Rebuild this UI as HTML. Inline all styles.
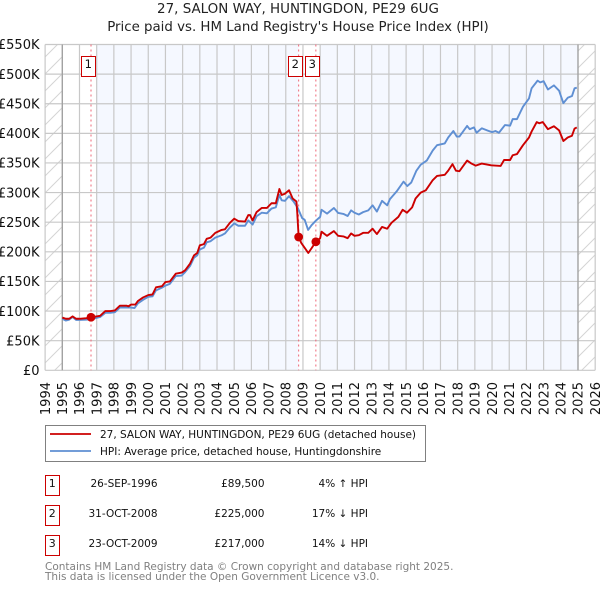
<!DOCTYPE html>
<html>
<head>
<meta charset="utf-8">
<style>
html,body{margin:0;padding:0;background:#fff;}
body{width:600px;height:590px;overflow:hidden;font-family:"DejaVu Sans",sans-serif;}
svg{display:block;}
svg text{font-family:"DejaVu Sans",sans-serif;}
</style>
</head>
<body>
<svg id="chart" width="600" height="590" viewBox="0 0 600 590" xmlns="http://www.w3.org/2000/svg">
  <defs>
    <pattern id="hatch" patternUnits="userSpaceOnUse" width="17" height="17">
      <path d="M-1 18 L18 -1 M-9 9 L9 -9 M8 26 L26 8" stroke="#d4d4d4" stroke-width="1" fill="none"/>
    </pattern>
  </defs>
  <text x="298" y="13" text-anchor="middle" font-size="13.45" fill="#222">27, SALON WAY, HUNTINGDON, PE29 6UG</text>
  <text x="298" y="31" text-anchor="middle" font-size="13.35" fill="#222">Price paid vs. HM Land Registry's House Price Index (HPI)</text>
  <g id="bands"></g>
  <g id="grid"></g>
  <g id="events"></g>
  <g id="series"></g>
  <g id="dots"></g>
  <g id="ylabels"></g>
  <g id="xlabels"></g>

  <g>
    <rect x="45.5" y="425.5" width="380" height="36" fill="#fff" stroke="#808080" stroke-width="1"/>
    <line x1="50" y1="434" x2="91" y2="434" stroke="#cc0000" stroke-width="1.8"/>
    <text x="100" y="438" font-size="10.5" fill="#111">27, SALON WAY, HUNTINGDON, PE29 6UG (detached house)</text>
    <line x1="50" y1="451" x2="91" y2="451" stroke="#5f8fd3" stroke-width="1.8"/>
    <text x="100" y="455" font-size="10.5" fill="#111">HPI: Average price, detached house, Huntingdonshire</text>
  </g>

  <g font-size="10.5" fill="#111">
    <g>
      <rect x="45.5" y="475.5" width="14" height="20" fill="#fff" stroke="#cc0000" stroke-width="1"/>
      <text x="52.3" y="487" text-anchor="middle" font-size="11">1</text>
      <text x="157.5" y="487" text-anchor="end">26-SEP-1996</text>
      <text x="264.5" y="487" text-anchor="end">£89,500</text>
      <text x="368" y="487" text-anchor="end">4% ↑ HPI</text>
    </g>
    <g>
      <rect x="45.5" y="505.5" width="14" height="20" fill="#fff" stroke="#cc0000" stroke-width="1"/>
      <text x="52.3" y="517" text-anchor="middle" font-size="11">2</text>
      <text x="157.5" y="517" text-anchor="end">31-OCT-2008</text>
      <text x="264.5" y="517" text-anchor="end">£225,000</text>
      <text x="368" y="517" text-anchor="end">17% ↓ HPI</text>
    </g>
    <g>
      <rect x="45.5" y="535.5" width="14" height="20" fill="#fff" stroke="#cc0000" stroke-width="1"/>
      <text x="52.3" y="547" text-anchor="middle" font-size="11">3</text>
      <text x="157.5" y="547" text-anchor="end">23-OCT-2009</text>
      <text x="264.5" y="547" text-anchor="end">£217,000</text>
      <text x="368" y="547" text-anchor="end">14% ↓ HPI</text>
    </g>
  </g>
  <text x="45" y="570" font-size="10.5" fill="#808080">Contains HM Land Registry data © Crown copyright and database right 2025.</text>
  <text x="45" y="580" font-size="10.5" fill="#808080">This data is licensed under the Open Government Licence v3.0.</text>
</svg>
<script>
var xTickYears = [1994,1995,1996,1997,1998,1999,2000,2001,2002,2003,2004,2005,2006,2007,2008,2009,2010,2011,2012,2013,2014,2015,2016,2017,2018,2019,2020,2021,2022,2023,2024,2025,2026];
var yTickValues = [0,50,100,150,200,250,300,350,400,450,500,550];
var yTickLabels = ['£0','£50K','£100K','£150K','£200K','£250K','£300K','£350K','£400K','£450K','£500K','£550K'];
var eventDates = [1996.67,2008.75,2009.75];
var eventPrices = [89.5,225,217];
var eventNumbers = ['1','2','3'];
var bandStarts = [1997,2010];
var bandEnds = [2008.75,2025];
var dataStart = [1995];
var dataEnd = [2025];
var axisMinYear = [1994];
var axisMaxYear = [2026];
var axisMaxValue = [550];

var priceDates = [1995,1995.2,1995.4,1995.6,1995.8,1996,1996.4,1996.67,1997.2,1997.5,1997.8,1998.06,1998.35,1998.75,1998.85,1999,1999.25,1999.4,1999.7,2000,2000.25,2000.45,2000.8,2001,2001.26,2001.6,2001.95,2002.15,2002.43,2002.66,2002.85,2003,2003.24,2003.4,2003.63,2003.9,2004.27,2004.46,2004.75,2005,2005.24,2005.63,2005.82,2005.92,2006.07,2006.3,2006.6,2006.9,2007.17,2007.42,2007.63,2007.76,2007.95,2008.19,2008.4,2008.62,2008.67,2008.75,2008.9,2009.12,2009.31,2009.5,2009.75,2010,2010.08,2010.4,2010.8,2011.05,2011.35,2011.6,2011.8,2012,2012.25,2012.5,2012.8,2013.05,2013.3,2013.6,2013.9,2014.15,2014.55,2014.8,2015.05,2015.35,2015.55,2015.85,2016.15,2016.55,2016.8,2017.25,2017.45,2017.7,2017.9,2018.1,2018.55,2018.8,2019.05,2019.4,2019.95,2020.5,2020.7,2021.05,2021.2,2021.45,2021.8,2022.15,2022.3,2022.6,2022.75,2022.95,2023.25,2023.6,2023.9,2024.15,2024.4,2024.65,2024.8,2024.93];
var priceValues = [89,87,87,91,87,87,88,89.5,92,100,100,101,109,109,108,111,111,117,123,127,128,140,142,149,150,163,165,169,180,194,198,211,213,222,224,232,237,238,249,256,252,251,262,262,253,267,274,274,282,282,306,296,298,304,290,285,265,225,215,206,198,206,217,223,234,227,235,227,226,223,231,227,228,232,232,239,230,242,239,249,259,271,266,275,290,300,304,321,328,330,337,348,337,336,354,349,345.5,349,346,345,355,355,363,365,380,393,403,419,417,419,407,412,405,387,393,396,408,410];

var hpiDates = [1995,1995.2,1995.4,1995.6,1995.8,1996,1996.4,1996.74,1997.2,1997.5,1997.8,1998.06,1998.35,1998.75,1999,1999.2,1999.4,1999.7,2000,2000.25,2000.45,2000.8,2001,2001.26,2001.6,2001.95,2002.15,2002.43,2002.66,2002.85,2003,2003.24,2003.4,2003.63,2003.9,2004.27,2004.46,2004.75,2005,2005.24,2005.63,2005.82,2006.07,2006.3,2006.6,2006.9,2007.17,2007.42,2007.63,2007.76,2007.95,2008.19,2008.45,2008.7,2008.95,2009.1,2009.3,2009.5,2009.75,2010,2010.08,2010.4,2010.8,2011.05,2011.35,2011.6,2011.8,2012,2012.25,2012.5,2012.8,2013.05,2013.3,2013.6,2013.9,2014.06,2014.45,2014.85,2015.07,2015.3,2015.6,2015.85,2016.2,2016.55,2016.8,2017.25,2017.45,2017.75,2017.95,2018.1,2018.55,2018.7,2018.95,2019.1,2019.4,2019.75,2020,2020.2,2020.4,2020.75,2021.05,2021.2,2021.45,2021.8,2022.15,2022.3,2022.65,2022.8,2023,2023.25,2023.6,2023.9,2024.15,2024.4,2024.65,2024.8,2024.93];
var hpiValues = [87,84,85.5,90,85,85,85.5,86.5,90,97,97,98,106,106,106,105,113,119,124,125,135,139.5,143,146,159,160,166,176,190,194,204,207,216,218,224,228,231,241,248,244,244,253,246,260,266,265,273,275,296,287,286,294,285,274,257,254,237,245,252.5,259,271,264.5,274,265.6,264,260.5,270,266,263,267,270,278.5,268,286,278.5,289,302,318.5,311,317,337,347,354,371,380,383,393,404,394.5,394.5,412.5,407,410,401,408.5,404.6,402,404,401,414,413,424,424,445,459,476,489,486,488,474,481,472,451,460,463,476,477];

var SVG_NS = 'http://www.w3.org/2000/svg';
function X(year){ return 62.3 + (year - 1995) * 17.19; }
function Y(value){ return 370.3 - value * 0.5924; }
function make(tag, parentId, attrs){
  var el = document.createElementNS(SVG_NS, tag);
  for (var k in attrs) el.setAttribute(k, attrs[k]);
  document.getElementById(parentId).appendChild(el);
  return el;
}
function linePath(xs, ys){
  var d = '';
  for (var i = 0; i < xs.length; i++) d += (i ? 'L' : 'M') + X(xs[i]).toFixed(2) + ' ' + Y(ys[i]).toFixed(2);
  return d;
}

/* backgrounds */
var hatchL = make('rect','bands',{x:X(axisMinYear[0]),y:Y(axisMaxValue[0]),width:X(dataStart[0])-X(axisMinYear[0]),height:Y(0)-Y(axisMaxValue[0]),fill:'url(#hatch)'});


var hatchR = make('rect','bands',{x:X(dataEnd[0]),y:Y(axisMaxValue[0]),width:X(axisMaxYear[0])-X(dataEnd[0]),height:Y(0)-Y(axisMaxValue[0]),fill:'url(#hatch)'});


bandStarts.forEach(function(s, i){
  var band = make('rect','bands',{x:X(s),y:Y(axisMaxValue[0]),width:X(bandEnds[i])-X(s),height:Y(0)-Y(axisMaxValue[0]),fill:'#f5f8ff'});
  
  
});

/* grid */
xTickYears.forEach(function(yr){
  var g = make('line','grid',{x1:X(yr),x2:X(yr),y1:Y(axisMaxValue[0]),y2:Y(0),stroke:'#c8c8c8','stroke-width':1.2});
  
  
  var t = make('text','xlabels',{'text-anchor':'end','font-size':13,fill:'#111',transform:'translate(' + (X(yr)+4.7) + ',382) rotate(-90)'});
  
  
  t.textContent = yr;
});
yTickValues.forEach(function(v, i){
  var g = make('line','grid',{x1:X(axisMinYear[0]),x2:X(axisMaxYear[0]),y1:Y(v),y2:Y(v),stroke:'#c8c8c8','stroke-width':1.2});
  
  
  var t = make('text','ylabels',{x:39.5,y:Y(v)+4.7,'text-anchor':'end','font-size':13,fill:'#111'});
  
  
  t.textContent = yTickLabels[i];
});
[dataStart[0], dataEnd[0]].forEach(function(yr){
  var b = make('line','grid',{x1:X(yr),x2:X(yr),y1:Y(axisMaxValue[0]),y2:Y(0),stroke:'#a0a0a0','stroke-width':1.3});
  
  
});

/* event lines */
eventDates.forEach(function(d){
  var l = make('line','events',{x1:X(d),x2:X(d),y1:Y(axisMaxValue[0]),y2:Y(0),stroke:'#ee6677','stroke-width':1,'stroke-dasharray':'2 3'});
  
  
});

/* series */
var hpiLine = make('path','series',{d:linePath(hpiDates,hpiValues),fill:'none',stroke:'#5f8fd3','stroke-width':1.9,'stroke-linejoin':'round'});


var priceLine = make('path','series',{d:linePath(priceDates,priceValues),fill:'none',stroke:'#cc0000','stroke-width':1.9,'stroke-linejoin':'round'});



/* markers */
eventDates.forEach(function(d, i){
  var c = make('circle','dots',{cx:X(d),cy:Y(eventPrices[i]),r:4.4,fill:'#cc0000'});
  
  
  var px = Math.floor(X(d) + 0.01) + 4.5;
  var box = make('rect','dots',{x:px-14,y:56.5,width:14,height:20,fill:'#fff',stroke:'#cc0000','stroke-width':1});
  
  
  var t = make('text','dots',{x:px-7.2,y:68.2,'text-anchor':'middle','font-size':11.5,fill:'#111'});
  
  
  t.textContent = eventNumbers[i];
});
</script>
</body>
</html>
